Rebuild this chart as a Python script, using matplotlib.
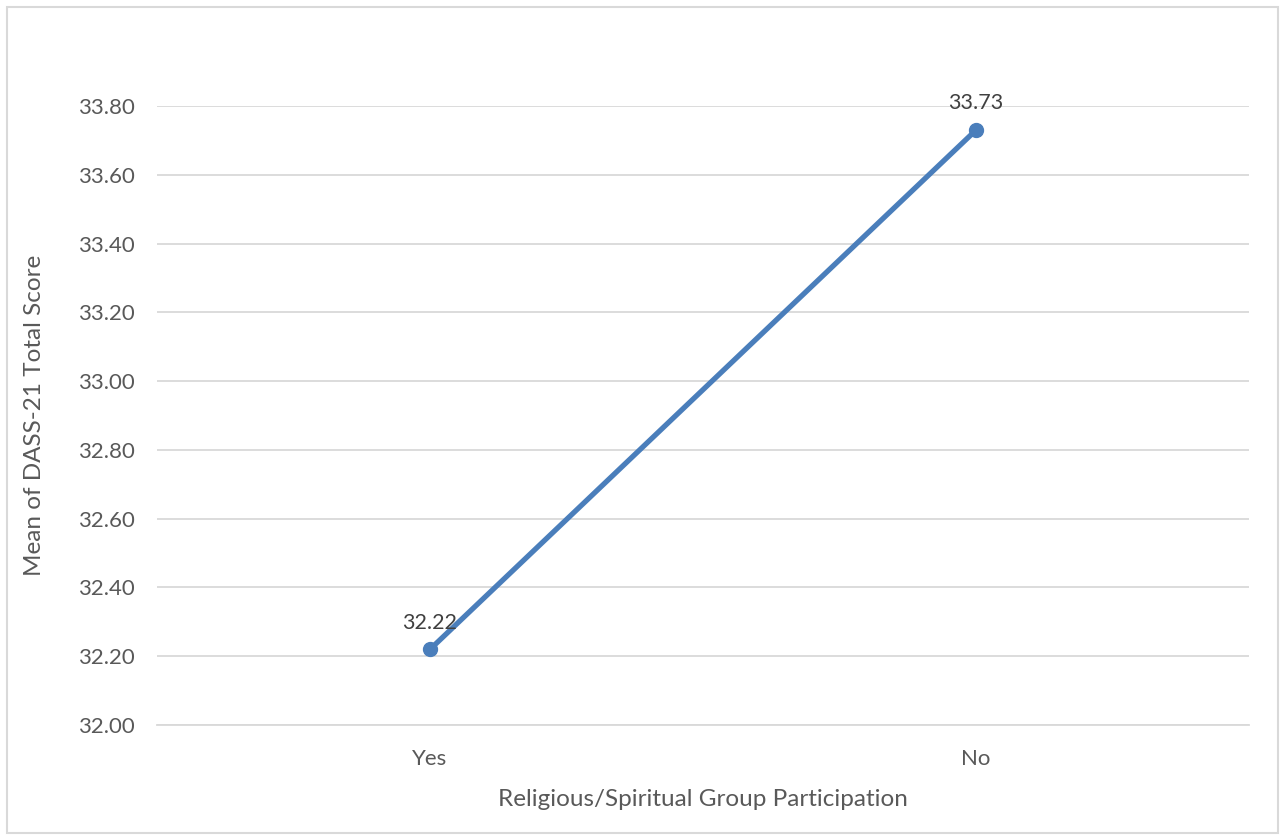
import matplotlib.pyplot as plt
from matplotlib.patches import Rectangle

# Mean DASS-21 total score by religious/spiritual group participation.
groups = ['Yes', 'No']
mean_scores = [32.22, 33.73]
y_ticks = [32.00, 32.20, 32.40, 32.60, 32.80, 33.00, 33.20, 33.40, 33.60, 33.80]

plt.rcParams['font.family'] = ['Lato', 'DejaVu Sans']

W, H = 1285, 840
fig = plt.figure(figsize=(W / 100, H / 100), dpi=100)

# Light grey frame around the whole chart.
fig.patches.append(Rectangle((7 / W, 1 - 833 / H), (1278 - 7) / W, (833 - 7) / H,
                             transform=fig.transFigure, fill=False,
                             edgecolor='#D9D9D9', linewidth=1.5))

ax = fig.add_axes([157 / W, 1 - 725 / H, (1249 - 157) / W, (725 - 106) / H])

x = list(range(len(groups)))
ax.plot(x, mean_scores, color='#4A7EBB', linewidth=3.8, marker='o',
        markersize=10, solid_capstyle='round', clip_on=False, zorder=3)

for xi, v in zip(x, mean_scores):
    ax.annotate('{:.2f}'.format(v), (xi, v), xytext=(0, 12),
                textcoords='offset points', ha='center', va='bottom',
                fontsize=15.5, color='#404040')

ax.set_xlim(-0.5, 1.5)
ax.set_ylim(32.0, 33.8)
ax.set_xticks(x)
ax.set_xticklabels(groups)
ax.set_yticks(y_ticks)
ax.set_yticklabels(['{:.2f}'.format(t) for t in y_ticks])

ax.grid(axis='y', color='#D9D9D9', linewidth=1.3)
ax.set_axisbelow(True)
for side in ['top', 'right', 'left']:
    ax.spines[side].set_visible(False)
ax.spines['bottom'].set_color('#D9D9D9')
ax.spines['bottom'].set_linewidth(1.3)

ax.tick_params(axis='both', length=0, labelsize=16, colors='#595959')
ax.tick_params(axis='y', pad=16)
ax.tick_params(axis='x', pad=17)

ax.set_xlabel('Religious/Spiritual Group Participation', fontsize=17.5,
              color='#595959', labelpad=15)
ax.set_ylabel('Mean of DASS-21 Total Score', fontsize=17.5, color='#595959',
              labelpad=24)

fig.savefig('out.png', dpi=100)
